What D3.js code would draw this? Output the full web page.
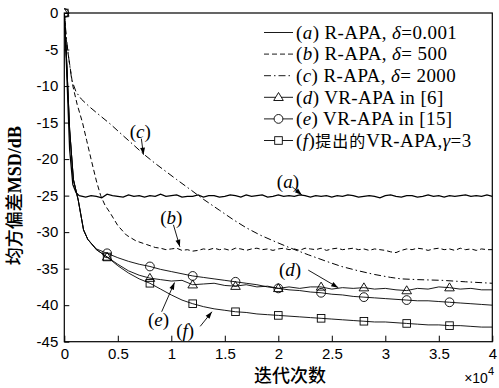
<!DOCTYPE html>
<html>
<head>
<meta charset="utf-8">
<script src="https://cdn.jsdelivr.net/npm/d3@7/dist/d3.min.js"></script>
<style>
  body { margin: 0; background: #fff; }
  svg { display: block; }
</style>
</head>
<body>
<div id="chart"></div>
<script>
// iterations are in units of 1e4, MSD in dB
const iterA = [0, 0.02, 0.05, 0.08, 0.11, 0.14,
  0.20, 0.25, 0.30, 0.35, 0.40, 0.45, 0.50, 0.55, 0.60, 0.65, 0.70, 0.75, 0.80, 0.85, 0.90, 0.95,
  1.00, 1.05, 1.10, 1.15, 1.20, 1.25, 1.30, 1.35, 1.40, 1.45, 1.50, 1.55, 1.60, 1.65, 1.70, 1.75, 1.80, 1.85, 1.90, 1.95,
  2.00, 2.05, 2.10, 2.15, 2.20, 2.25, 2.30, 2.35, 2.40, 2.45, 2.50, 2.55, 2.60, 2.65, 2.70, 2.75, 2.80, 2.85, 2.90, 2.95,
  3.00, 3.05, 3.10, 3.15, 3.20, 3.25, 3.30, 3.35, 3.40, 3.45, 3.50, 3.55, 3.60, 3.65, 3.70, 3.75, 3.80, 3.85, 3.90, 3.95, 4.00];
const msdA = [0, -7, -18.7, -23.5, -24.6, -25.0,
  -25.2, -25.0, -25.1, -25.3, -24.8, -25.0, -25.1, -25.2, -24.9, -25.1, -25.0, -25.2, -25.0, -25.1, -24.8, -25.1,
  -25.0, -24.9, -25.2, -25.1, -25.1, -24.9, -25.2, -25.0, -25.0, -25.2, -25.1, -24.9, -25.0, -25.2, -24.9, -25.1, -25.0, -24.9, -25.2, -25.1,
  -24.9, -25.1, -25.0, -25.1, -24.9, -25.0, -25.2, -25.0, -25.1, -25.0, -25.2, -25.0, -25.1, -24.9, -25.0, -25.2, -25.1, -25.0, -25.1, -25.3,
  -25.0, -24.9, -25.1, -25.2, -25.0, -25.0, -25.2, -25.1, -24.9, -25.1, -25.0, -25.2, -25.0, -25.1, -25.0, -24.9, -25.1, -25.0, -25.1, -24.9, -25.1];

const iterB = [0, 0.02, 0.05, 0.08, 0.12, 0.17, 0.21, 0.25, 0.30, 0.34, 0.38, 0.43, 0.50, 0.58, 0.67, 0.77, 0.85,
  0.90, 0.95, 1.00, 1.05, 1.10, 1.15, 1.20, 1.25, 1.30, 1.35, 1.40, 1.45, 1.50, 1.55, 1.60, 1.65, 1.70, 1.75, 1.80, 1.85, 1.90, 1.95,
  2.00, 2.05, 2.10, 2.15, 2.20, 2.25, 2.30, 2.35, 2.40, 2.45, 2.50, 2.55, 2.60, 2.65, 2.70, 2.75, 2.80, 2.85, 2.90, 2.95,
  3.00, 3.05, 3.10, 3.15, 3.20, 3.25, 3.30, 3.35, 3.40, 3.45, 3.50, 3.55, 3.60, 3.65, 3.70, 3.75, 3.80, 3.85, 3.90, 3.95, 4.00];
const msdB = [0, -4, -7, -10, -12.5, -15, -17.5, -20, -23, -25, -26.3, -27.4, -29.1, -30.4, -31.2, -31.7, -32.1,
  -32.2, -32.4, -32.3, -32.2, -32.5, -32.4, -32.6, -32.5, -32.3, -32.4, -32.2, -32.4, -32.3, -32.5, -32.2, -32.3, -32.5, -32.3, -32.2, -32.4, -32.3, -32.5,
  -32.3, -32.2, -32.4, -32.3, -32.5, -32.2, -32.3, -32.4, -32.2, -32.5, -32.3, -32.2, -32.4, -32.3, -32.2, -32.4, -32.3, -32.5, -32.3, -32.4,
  -32.5, -32.7, -32.8, -32.5, -32.3, -32.4, -32.2, -32.3, -32.5, -32.3, -32.2, -32.4, -32.3, -32.5, -32.2, -32.4, -32.3, -32.5, -32.3, -32.4, -32.4];

const iterC = [0, 0.02, 0.04, 0.07, 0.11, 0.16, 0.24, 0.33, 0.43, 0.55, 0.65, 0.74, 0.85, 0.95, 1.05, 1.19, 1.30, 1.45,
  1.58, 1.70, 1.83, 1.97, 2.10, 2.28, 2.45, 2.59, 2.75, 2.90, 3.05, 3.15, 3.30, 3.53, 3.75, 4.00];
const msdC = [0, -3.5, -6, -9.2, -10.8, -11.8, -12.9, -14.0, -15.2, -16.8, -18.1, -19.3, -20.6, -21.7, -22.8, -24.3, -25.5, -27.0,
  -28.3, -29.4, -30.4, -31.3, -32.1, -33.1, -34.0, -34.7, -35.3, -35.8, -36.2, -36.4, -36.5, -36.6, -36.8, -37.0];

// VR-APA curves share the early transient
const iterVR = [0, 0.02, 0.05, 0.085, 0.13, 0.18, 0.22, 0.30, 0.40, 0.50, 0.60, 0.70, 0.80, 0.90,
  1.00, 1.10, 1.20, 1.30, 1.40, 1.50, 1.60, 1.70, 1.80, 1.90, 2.00, 2.10, 2.20, 2.30, 2.40, 2.50, 2.60, 2.70, 2.80, 2.90,
  3.00, 3.10, 3.20, 3.30, 3.40, 3.50, 3.60, 3.70, 3.80, 3.90, 4.00];
const msdD = [0, -6, -16, -22.8, -25.6, -29.7, -31.0, -32.4, -33.4, -34.4, -35.3, -35.9, -36.3, -36.5,
  -36.7, -36.6, -37.2, -37.1, -37.0, -37.3, -37.4, -37.2, -37.5, -37.4, -37.7, -37.5, -37.7, -37.5, -37.5, -37.8, -37.6, -37.7, -37.6, -37.8,
  -37.7, -37.9, -38.0, -37.7, -37.8, -37.5, -37.6, -37.8, -37.7, -37.9, -37.9];
const msdE = [0, -6, -16, -22.8, -25.6, -29.7, -31.0, -32.3, -32.9, -33.5, -34.0, -34.4, -34.7, -35.1,
  -35.4, -35.7, -36.0, -36.2, -36.4, -36.6, -36.8, -37.0, -37.2, -37.5, -37.7, -37.9, -38.0, -38.2, -38.3, -38.5, -38.6, -38.8, -38.9, -39.0,
  -39.1, -39.2, -39.3, -39.4, -39.4, -39.5, -39.6, -39.7, -39.8, -39.9, -40.0];
const msdF = [0, -6, -16, -22.8, -25.6, -29.7, -31.0, -32.4, -33.4, -34.6, -35.6, -36.4, -37.0, -37.8,
  -38.6, -39.3, -39.8, -40.2, -40.5, -40.7, -40.9, -41.0, -41.2, -41.3, -41.4, -41.5, -41.6, -41.7, -41.8, -41.9, -42.0, -42.1, -42.2, -42.3,
  -42.3, -42.4, -42.5, -42.6, -42.7, -42.7, -42.8, -42.8, -42.9, -43.0, -43.0];
const markerIters = [0, 0.4, 0.8, 1.2, 1.6, 2.0, 2.4, 2.8, 3.2, 3.6];

const xTicks = [0, 0.5, 1, 1.5, 2, 2.5, 3, 3.5, 4];
const yTicks = [0, -5, -10, -15, -20, -25, -30, -35, -40, -45];

const legendLetters = ["a", "b", "c", "d", "e", "f"];
const legendTexts = [
  [") R-APA, ", "δ", "=0.001"],
  [") R-APA, ", "δ", "= 500"],
  [") R-APA, ", "δ", "= 2000"],
  [") VR-APA in [6]", "", ""],
  [") VR-APA in [15]", "", ""],
  [")提出的VR-APA,", "γ", "=3"]
];

// annotation label + arrow, in data units
const notes = [
  { t: "c", lx: 0.71, ly: -16.3, x1: 0.72, y1: -17.2, x2: 0.74, y2: -19.4 },
  { t: "a", lx: 2.09, ly: -23.1, x1: 2.13, y1: -23.8, x2: 2.22, y2: -24.9 },
  { t: "b", lx: 1.00, ly: -28.0, x1: 1.02, y1: -29.0, x2: 1.08, y2: -32.0 },
  { t: "d", lx: 2.11, ly: -35.2, x1: 2.28, y1: -35.2, x2: 2.56, y2: -37.6 },
  { t: "e", lx: 0.88, ly: -42.0, x1: 0.91, y1: -40.9, x2: 1.03, y2: -36.9 },
  { t: "f", lx: 1.13, ly: -43.6, x1: 1.27, y1: -42.9, x2: 1.38, y2: -40.9 }
];

const width = 499;
const height = 388;
const margin = { left: 64.3, right: 6.7, top: 13, bottom: 46.3 };
const serif = '"Liberation Serif", "Times New Roman", serif';
const sans = '"Liberation Sans", Arial, sans-serif';
const cjk = '"Noto Sans CJK SC", sans-serif';

const svg = d3.select("#chart").append("svg")
  .attr("width", width)
  .attr("height", height);

const x = d3.scaleLinear().domain([0, 4]).range([margin.left, width - margin.right]);
const y = d3.scaleLinear().domain([-45, 0]).range([height - margin.bottom, margin.top]);

svg.append("defs").append("clipPath").attr("id", "plot")
  .append("rect")
  .attr("x", margin.left).attr("y", margin.top - 6)
  .attr("width", x(4) - x(0)).attr("height", y(-45) - y(0) + 6);

const arrow = svg.select("defs").append("marker")
  .attr("id", "arrow")
  .attr("viewBox", "0 0 10 10")
  .attr("refX", 10).attr("refY", 5)
  .attr("markerWidth", 9).attr("markerHeight", 7)
  .attr("markerUnits", "userSpaceOnUse")
  .attr("orient", "auto");
arrow.append("path").attr("d", "M0,1.5 L10,5 L0,8.5 Z").attr("fill", "#000");

// axes
const yAxis = svg.append("g")
  .attr("transform", `translate(${margin.left},0)`)
  .call(d3.axisLeft(y).tickValues(yTicks).tickSizeInner(-5).tickSizeOuter(0).tickPadding(6).tickFormat(d => String(d)));
const xAxis = svg.append("g")
  .attr("transform", `translate(0,${y(-45)})`)
  .call(d3.axisBottom(x).tickValues(xTicks).tickSizeInner(-6).tickSizeOuter(0).tickPadding(7).tickFormat(d => String(d)));
[yAxis, xAxis].forEach(g => {
  g.select(".domain").remove();
  g.selectAll("text").style("font-family", sans).style("font-size", "15px").attr("fill", "#000");
  g.selectAll("line").attr("stroke", "#000");
});

svg.append("rect")
  .attr("x", x(0)).attr("y", y(0))
  .attr("width", x(4) - x(0)).attr("height", y(-45) - y(0))
  .attr("fill", "none").attr("stroke", "#000").attr("stroke-width", 1.2);

// curves
const plot = svg.append("g").attr("clip-path", "url(#plot)");
const line = d3.line().x(d => x(d[0])).y(d => y(d[1]));
const series = [
  { it: iterA, v: msdA, dash: null, w: 1.3 },
  { it: iterB, v: msdB, dash: "5,3", w: 1 },
  { it: iterC, v: msdC, dash: "7,3,1.5,3", w: 1 },
  { it: iterVR, v: msdD, dash: null, w: 0.9, mk: "tri" },
  { it: iterVR, v: msdE, dash: null, w: 0.9, mk: "circ" },
  { it: iterVR, v: msdF, dash: null, w: 0.9, mk: "sq" }
];

function drawMarker(g, kind, cx, cy) {
  if (kind === "tri") {
    g.append("path").attr("d", `M${cx},${cy - 4.8} L${cx + 4.8},${cy + 3.2} L${cx - 4.8},${cy + 3.2} Z`);
  } else if (kind === "circ") {
    g.append("circle").attr("cx", cx).attr("cy", cy).attr("r", 4.4);
  } else {
    g.append("rect").attr("x", cx - 3.8).attr("y", cy - 3.8).attr("width", 7.6).attr("height", 7.6);
  }
}

series.forEach(s => {
  const pts = s.it.map((t, i) => [t, s.v[i]]);
  plot.append("path")
    .attr("d", line(pts))
    .attr("fill", "none")
    .attr("stroke", "#000")
    .attr("stroke-width", s.w)
    .attr("stroke-dasharray", s.dash);
  if (s.mk) {
    const mg = plot.append("g").attr("fill", "none").attr("stroke", "#000").attr("stroke-width", 0.9);
    pts.filter(p => markerIters.includes(p[0]))
      .forEach(p => drawMarker(mg, s.mk, x(p[0]), y(p[1])));
  }
});

// annotations
notes.forEach(n => {
  svg.append("line")
    .attr("x1", x(n.x1)).attr("y1", y(n.y1))
    .attr("x2", x(n.x2)).attr("y2", y(n.y2))
    .attr("stroke", "#000").attr("stroke-width", 0.9)
    .attr("marker-end", "url(#arrow)");
  const t = svg.append("text")
    .attr("x", x(n.lx)).attr("y", y(n.ly) + 6)
    .attr("text-anchor", "middle")
    .style("font-family", serif).style("font-size", "19px");
  t.append("tspan").text("(");
  t.append("tspan").style("font-style", "italic").text(n.t);
  t.append("tspan").text(")");
});

// legend
const lg = svg.append("g").style("font-family", serif).style("font-size", "19px").style("letter-spacing", "0.4px");
legendLetters.forEach((l, i) => {
  const cy = 32.5 + i * 21.6;
  lg.append("line")
    .attr("x1", 264).attr("x2", 293).attr("y1", cy).attr("y2", cy)
    .attr("stroke", "#000").attr("stroke-width", 0.9)
    .attr("stroke-dasharray", series[i].dash);
  if (series[i].mk) {
    const mg = lg.append("g").attr("fill", "#fff").attr("stroke", "#000").attr("stroke-width", 0.9);
    drawMarker(mg, series[i].mk, 278.5, cy);
  }
  const t = lg.append("text").attr("x", 296).attr("y", cy + 6.2);
  t.append("tspan").text("(");
  t.append("tspan").style("font-style", "italic").text(l);
  const parts = legendTexts[i];
  if (i === 5) {
    t.append("tspan").text(")");
    t.append("tspan").style("font-family", cjk).style("font-size", "16px").style("letter-spacing", "1px").text("提出的");
    t.append("tspan").text("VR-APA,");
  } else {
    t.append("tspan").text(parts[0]);
  }
  if (parts[1]) t.append("tspan").style("font-style", "italic").text(parts[1]);
  if (parts[2]) t.append("tspan").text(parts[2]);
});

// axis titles
svg.append("text")
  .attr("x", 290).attr("y", 382)
  .attr("text-anchor", "middle")
  .style("font-family", cjk).style("font-size", "18px").style("font-weight", 500)
  .text("迭代次数");

const yl = svg.append("text")
  .attr("transform", `translate(21,${y(-25)}) rotate(-90)`)
  .attr("text-anchor", "middle");
yl.append("tspan").style("font-family", cjk).style("font-size", "18px").style("font-weight", 500).text("均方偏差");
yl.append("tspan").style("font-family", serif).style("font-size", "18px").style("font-weight", "bold").text("MSD/dB");

const ex = svg.append("text")
  .attr("x", 494).attr("y", 383)
  .attr("text-anchor", "end")
  .style("font-family", sans).style("font-size", "14px");
ex.append("tspan").text("×10");
ex.append("tspan").attr("dy", -8).style("font-size", "11px").text("4");
</script>
</body>
</html>
